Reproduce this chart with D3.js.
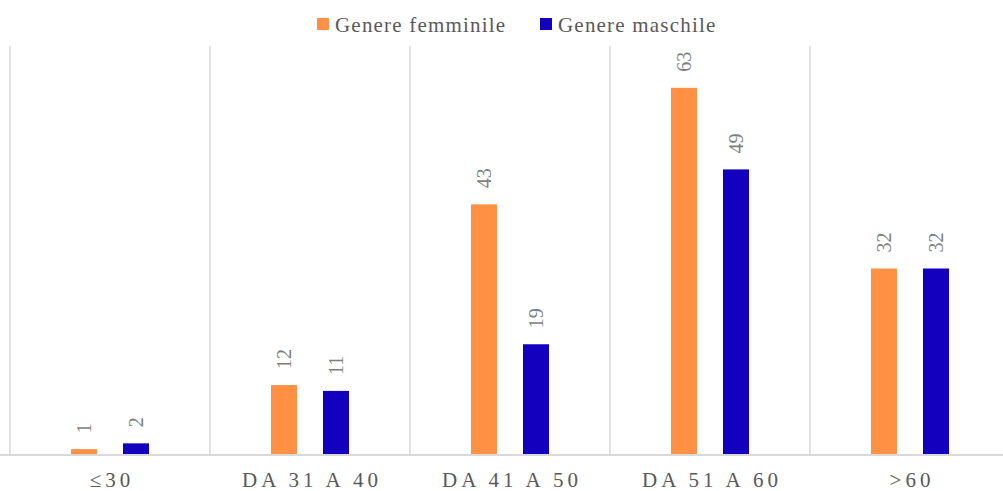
<!DOCTYPE html>
<html><head><meta charset="utf-8">
<script src="https://cdn.jsdelivr.net/npm/d3@7"></script>
<style>body{margin:0;background:#fff}svg{display:block}</style>
</head><body>
<script>
const categories = ["≤30", "DA 31 A 40", "DA 41 A 50", "DA 51 A 60", ">60"];
const seriesNames = ["Genere femminile", "Genere maschile"];
const femminile = [1, 12, 43, 63, 32];
const maschile = [2, 11, 19, 49, 32];
const colors = ["#FF9044", "#1300BF"];

const W = 1003, H = 491;
const FONT = '"Liberation Serif"';
const svg = d3.select("body").append("svg").attr("width", W).attr("height", H);

const x0 = d3.scaleBand().domain(categories).range([10, 1010]);
const x1 = d3.scaleBand().domain(seriesNames).range([0, x0.bandwidth()]).paddingInner(0.5).paddingOuter(1.173);
const y = d3.scaleLinear().domain([0, 70]).range([455, 47]);

// vertical separators
const bounds = categories.map(c => x0(c));
svg.append("g").selectAll("line").data(bounds).join("line")
  .attr("x1", d => d).attr("x2", d => d)
  .attr("y1", y(70) - 1).attr("y2", y(0))
  .attr("stroke", "#d9d9d9").attr("stroke-width", 1.5);

const data = categories.map((c, i) => ({cat: c, vals: [femminile[i], maschile[i]]}));

const groups = svg.append("g").selectAll("g").data(data).join("g")
  .attr("transform", d => `translate(${x0(d.cat)},0)`);

groups.selectAll("rect").data(d => d.vals.map((v, j) => ({v, s: seriesNames[j], j})))
  .join("rect")
  .attr("x", d => x1(d.s)).attr("width", x1.bandwidth())
  .attr("y", d => y(d.v)).attr("height", d => y(0) - y(d.v))
  .attr("fill", d => colors[d.j]);

groups.selectAll("text").data(d => d.vals.map((v, j) => ({v, s: seriesNames[j], j})))
  .join("text")
  .attr("transform", d => `translate(${x1(d.s) + x1.bandwidth() / 2},${y(d.v) - 16}) rotate(-90)`)
  .attr("dy", "0.35em")
  .attr("text-anchor", "start")
  .style("font-family", FONT)
  .style("font-size", "20px")
  .attr("fill", "#7f7f7f")
  .text(d => d.v);

// x axis
const xAxis = d3.axisBottom(x0).tickSize(0).tickPadding(0);
const ax = svg.append("g").attr("transform", `translate(0,${y(0)})`).call(xAxis);
ax.select(".domain").attr("stroke", "#d9d9d9").attr("stroke-width", 2).attr("d", `M0,0H1010`);
ax.selectAll(".tick text")
  .attr("y", 32).attr("dy", 0)
  .style("font-family", FONT)
  .style("font-size", "21px")
  .attr("letter-spacing", "4px")
  .attr("fill", "#595959")
  .attr("dx", 2);

// legend
const legendX = [317, 540];
const lg = svg.append("g").selectAll("g").data(seriesNames).join("g")
  .attr("transform", (d, i) => `translate(${legendX[i]},18)`);
lg.append("rect").attr("width", 12).attr("height", 12).attr("fill", (d, i) => colors[i]);
lg.append("text").attr("x", 18).attr("y", 14)
  .style("font-family", FONT)
  .style("font-size", "21px")
  .attr("letter-spacing", "1.2px")
  .attr("fill", "#595959").text(d => d);
</script>
</body></html>
